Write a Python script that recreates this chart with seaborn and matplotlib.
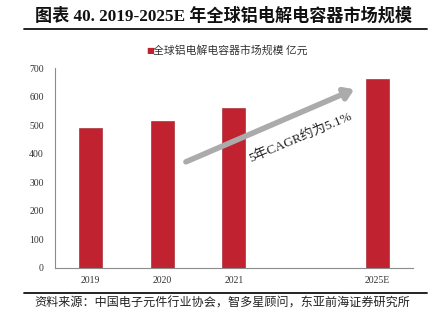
import matplotlib
matplotlib.use("Agg")
import matplotlib.pyplot as plt
import seaborn as sns
import pandas as pd

categories = ["2019", "2020", "2021", "", "2025E"]
values = [490, 514, 560, None, 662]
series_name = "全球铝电解电容器市场规模 亿元"
title = "图表 40. 2019-2025E 年全球铝电解电容器市场规模"
source = "资料来源：中国电子元件行业协会，智多星顾问，东亚前海证券研究所"
cagr_text = "5年CAGR约为5.1%"
yticks = [0, 100, 200, 300, 400, 500, 600, 700]

sns.set_theme(style="white")
plt.rcParams['font.family'] = ['Liberation Serif', 'Noto Sans CJK SC', 'DejaVu Sans']

df = pd.DataFrame({"year": categories, "value": values, "series": series_name})
df = df.dropna()

fig = plt.figure(figsize=(4.32, 3.29), dpi=100)
ax = fig.add_axes([0.127, 0.1863, 0.829, 0.6055])
red = "#C0222F"
sns.barplot(data=df, x="year", y="value", order=categories, color=red,
            saturation=1, width=0.32, ax=ax, edgecolor="#A01A25", linewidth=0.4)

ax.set_xlim(-0.5, 4.5)
ax.set_ylim(0, 700)
ax.set_yticks(yticks)
ax.set_xlabel("")
ax.set_ylabel("")
for s in ["top", "right"]:
    ax.spines[s].set_visible(False)
for s in ["left", "bottom"]:
    ax.spines[s].set_color("#8c8c8c")
    ax.spines[s].set_linewidth(0.8)
ax.tick_params(axis="y", direction="in", length=3, width=0.7, color="#8c8c8c",
               labelsize=7, pad=8, labelcolor="#333333")
ax.tick_params(axis="x", length=0, labelsize=7, pad=6, labelcolor="#333333")

# CAGR arrow
ax.annotate("", xy=(3.68, 627), xytext=(1.33, 372),
            arrowprops=dict(arrowstyle="-|>,head_length=0.45,head_width=0.3",
                            color="#ABABAB", lw=4, shrinkA=0, shrinkB=0))
ax.text(2.93, 458, cagr_text, rotation=23, ha="center", va="center",
        fontsize=9.5, color="#222222",
        family=['Liberation Serif', 'Noto Sans CJK SC'])

# legend
fig.text(0.347, 0.848, "■", color=red, fontsize=6, ha="center", va="center",
         family=['DejaVu Sans'])
fig.text(0.355, 0.848, series_name, fontsize=7.8, ha="left", va="center",
         color="#333333", family=['Noto Sans CJK SC'])

# title
fig.text(0.08, 0.952, title, fontsize=12.3, fontweight="bold", ha="left",
         va="center", color="#111111",
         family=['Liberation Serif', 'Noto Sans CJK SC'])
fig.add_artist(plt.Line2D([0.056, 0.988], [0.913, 0.913], color="#111111", lw=1.3,
                          transform=fig.transFigure))
fig.add_artist(plt.Line2D([0.056, 0.988], [0.11, 0.11], color="#111111", lw=1.3,
                          transform=fig.transFigure))
fig.text(0.08, 0.078, source, fontsize=8.7, ha="left", va="center",
         color="#222222", family=['Noto Sans CJK SC'])

fig.savefig("out.png", dpi=100)
